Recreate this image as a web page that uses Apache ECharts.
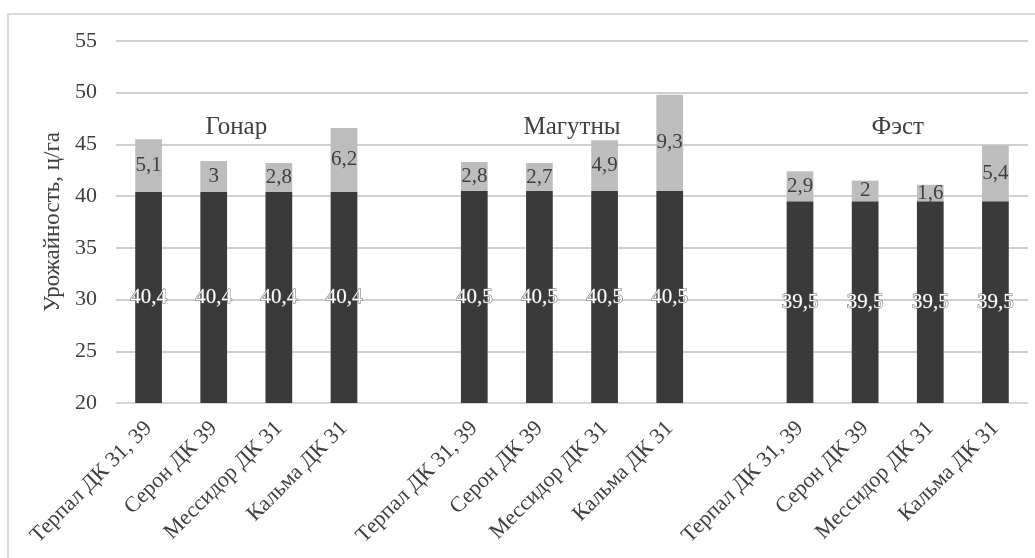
<!DOCTYPE html>
<html>
<head>
<meta charset="utf-8">
<script src="https://cdn.jsdelivr.net/npm/echarts@6/dist/echarts.min.js"></script>
<style>
  html, body { margin: 0; padding: 0; background: #fff; }
  #chart { width: 1035px; height: 558px; }
</style>
</head>
<body>
<div id="chart"></div>
<script>
// сорта (повторяются в каждой группе), пустая категория - промежуток
var varieties = ['Терпал ДК 31, 39', 'Серон ДК 39', 'Мессидор ДК 31', 'Кальма ДК 31'];
var groups = ['Гонар', 'Магутны', 'Фэст'];
var baseValues = [40.4, 40.5, 39.5];
var addGonar = [5.1, 3, 2.8, 6.2];
var addMagutny = [2.8, 2.7, 4.9, 9.3];
var addFest = [2.9, 2, 1.6, 5.4];
var yTicks = [20, 25, 30, 35, 40, 45, 50, 55];

var serif = '"Liberation Serif", "DejaVu Serif", serif';
var adds = [addGonar, addMagutny, addFest];

var categories = [];
var baseData = [];
var addData = [];
for (var g = 0; g < groups.length; g++) {
    if (g > 0) {
        categories.push('');
        baseData.push('-');
        addData.push('-');
    }
    for (var i = 0; i < varieties.length; i++) {
        categories.push(varieties[i]);
        baseData.push(baseValues[g]);
        addData.push(adds[g][i]);
    }
}

function fmt(v) {
    return String(v).replace('.', ',');
}

var myChart = echarts.init(document.getElementById('chart'));
var option = {
    animation: false,
    textStyle: { fontFamily: serif },
    grid: { left: 116, right: 7, top: 41, bottom: 155 },
    xAxis: {
        type: 'category',
        data: categories,
        axisTick: { show: false },
        axisLine: { lineStyle: { color: '#d9d9d9', width: 1.5 } },
        axisLabel: {
            interval: 0,
            rotate: 45,
            margin: 22,
            fontSize: 22,
            color: '#404040',
            fontFamily: serif
        }
    },
    yAxis: {
        type: 'value',
        min: yTicks[0],
        max: yTicks[yTicks.length - 1],
        interval: 5,
        name: 'Урожайность, ц/га',
        nameLocation: 'middle',
        nameGap: 52,
        nameTextStyle: { fontSize: 23, color: '#404040', fontFamily: serif },
        axisLine: { show: false },
        axisTick: { show: false },
        axisLabel: { fontSize: 22, color: '#404040', margin: 19, fontFamily: serif },
        splitLine: { lineStyle: { color: '#c0c0c0', width: 1.5 } }
    },
    series: [
        {
            name: 'base',
            type: 'bar',
            stack: 'total',
            barWidth: '41%',
            data: baseData,
            itemStyle: { color: '#3a3a3a' },
            label: {
                show: true,
                position: 'inside',
                color: '#fff',
                fontSize: 21,
                fontFamily: serif,
                textBorderColor: '#666',
                textBorderWidth: 1,
                formatter: function (p) { return fmt(p.value); }
            }
        },
        {
            name: 'add',
            type: 'bar',
            stack: 'total',
            data: addData,
            itemStyle: { color: '#bdbdbd' },
            label: {
                show: true,
                position: 'inside',
                color: '#404040',
                fontSize: 21,
                fontFamily: serif,
                formatter: function (p) { return fmt(p.value); }
            }
        }
    ]
};
myChart.setOption(option);

// подписи групп над столбцами и рамка
var graphics = [{
    type: 'rect',
    shape: { x: 8, y: 14, width: 1040, height: 560 },
    style: { fill: 'none', stroke: '#d9d9d9', lineWidth: 2 },
    silent: true
}];
for (var g = 0; g < groups.length; g++) {
    var first = g * 5;
    var p1 = myChart.convertToPixel({ gridIndex: 0 }, [first, 46.6]);
    var p2 = myChart.convertToPixel({ gridIndex: 0 }, [first + 3, 46.6]);
    graphics.push({
        type: 'text',
        x: (p1[0] + p2[0]) / 2 - (g == 0 ? 10 : 0),
        y: p1[1],
        style: {
            text: groups[g],
            fill: '#404040',
            fontSize: 25,
            fontFamily: serif,
            align: 'center',
            verticalAlign: 'middle'
        }
    });
}
myChart.setOption({ graphic: graphics });
</script>
</body>
</html>
